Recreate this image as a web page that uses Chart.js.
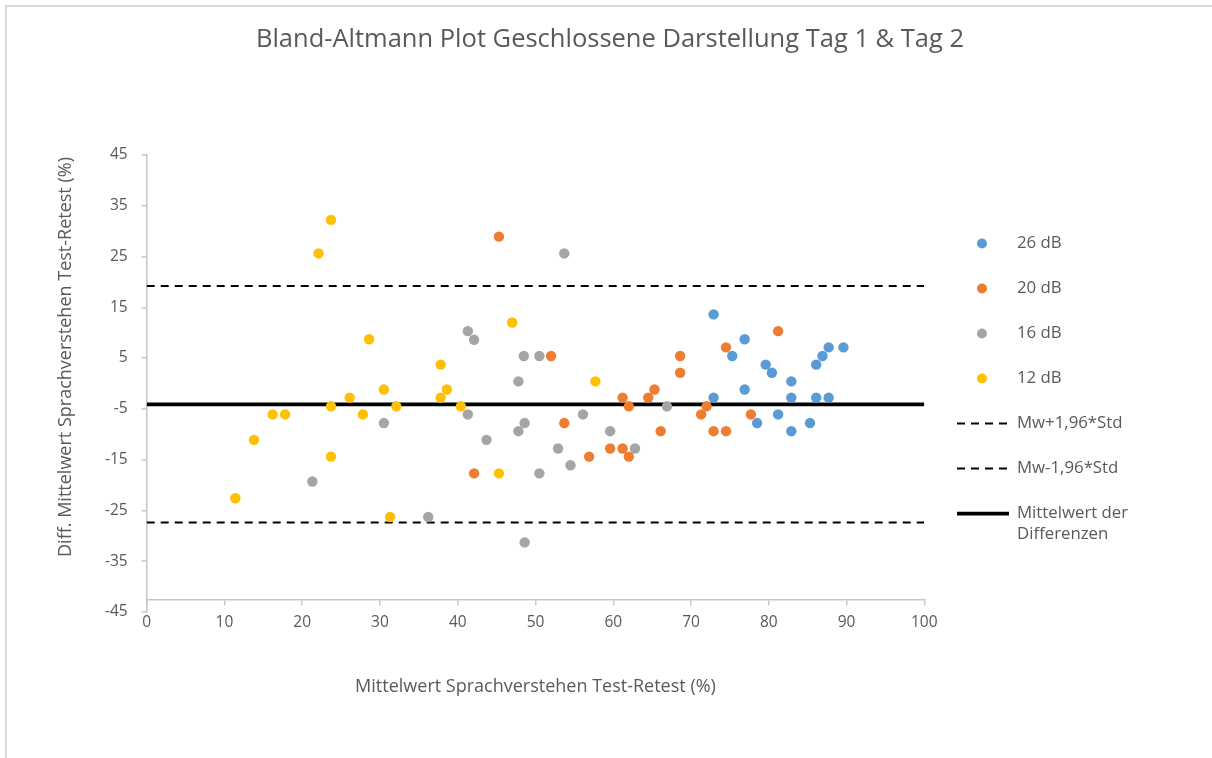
<!DOCTYPE html>
<html>
<head>
<meta charset="utf-8">
<script src="https://cdn.jsdelivr.net/npm/chart.js@4.4.0/dist/chart.umd.min.js"></script>
<style>
  body { margin: 0; background: #fff; overflow: hidden; }
  #wrap { width: 1212px; height: 758px; }
</style>
</head>
<body>
<div id="wrap"><canvas id="myChart" width="1212" height="758"></canvas></div>
<script>
var chartTitle = "Bland-Altmann Plot Geschlossene Darstellung Tag 1 & Tag 2";
var xTitle = "Mittelwert Sprachverstehen Test-Retest (%)";
var yTitle = "Diff. Mittelwert Sprachverstehen Test-Retest (%)";

var seriesNames = ["26 dB", "20 dB", "16 dB", "12 dB"];
var seriesColors = ["#5B9BD5", "#ED7D31", "#A5A5A5", "#FFC000"];

// x = Mittelwert, y = Differenz (Tag 1 - Tag 2)
var x26 = [72.9, 76.9, 75.3, 79.6, 80.4, 82.9, 86.1, 86.9, 87.7, 89.6, 72.9, 76.9, 78.5, 81.2, 82.9, 82.9, 85.3, 86.1, 87.7];
var y26 = [13.6, 8.7, 5.4, 3.7, 2.1, 0.4, 3.7, 5.4, 7.1, 7.1, -2.8, -1.2, -7.8, -6.1, -2.8, -9.4, -7.8, -2.8, -2.8];

var x20 = [45.3, 52.0, 68.6, 68.6, 81.2, 74.5, 42.1, 53.7, 56.9, 59.6, 61.2, 62.0, 61.2, 62.0, 64.5, 65.3, 66.1, 72.0, 71.3, 72.9, 74.5, 77.7];
var y20 = [28.9, 5.4, 5.4, 2.1, 10.3, 7.1, -17.7, -7.8, -14.4, -12.8, -12.8, -14.4, -2.8, -4.5, -2.8, -1.2, -9.4, -4.5, -6.1, -9.4, -9.4, -6.1];

var x16 = [53.7, 41.3, 42.1, 48.5, 50.5, 47.8, 41.3, 43.7, 47.8, 48.6, 48.6, 50.5, 52.9, 54.5, 56.1, 59.6, 62.8, 66.9, 36.2, 30.5, 21.3];
var y16 = [25.6, 10.3, 8.6, 5.4, 5.4, 0.4, -6.1, -11.1, -9.4, -7.8, -31.3, -17.7, -12.8, -16.1, -6.1, -9.4, -12.8, -4.5, -26.3, -7.8, -19.3];

var x12 = [23.7, 22.1, 28.6, 11.4, 13.8, 16.2, 17.8, 23.7, 23.7, 26.1, 27.8, 30.5, 32.1, 31.3, 47.0, 37.8, 37.8, 38.6, 40.4, 45.3, 57.7];
var y12 = [32.2, 25.6, 8.7, -22.6, -11.1, -6.1, -6.1, -4.5, -14.4, -2.8, -6.1, -1.2, -4.5, -26.3, 12.0, 3.7, -2.8, -1.2, -4.5, -17.7, 0.4];

var xSeries = [x26, x20, x16, x12];
var ySeries = [y26, y20, y16, y12];

// Grenzen und Mittelwert der Differenzen
var lineNames = ["Mw+1,96*Std", "Mw-1,96*Std", "Mittelwert der Differenzen"];
var lineValues = [19.2, -27.4, -4.1];
var lineWidths = [2, 2, 3.75];
var lineDashes = [[8, 6], [8, 6], []];

var xRange = [0, 100];
var yRange = [-45, 45];
var xAxisCross = -42.5;

var textColor = "#595959";
var axisColor = "#c6c6c6";
var fontFamily = "'Open Sans', 'Noto Sans', sans-serif";

var datasets = [];
for (var i = 0; i < seriesNames.length; i++) {
  var pts = [];
  for (var j = 0; j < xSeries[i].length; j++) {
    pts.push({ x: xSeries[i][j], y: ySeries[i][j] });
  }
  datasets.push({
    label: seriesNames[i],
    data: pts,
    backgroundColor: seriesColors[i],
    borderColor: seriesColors[i],
    pointRadius: 5.2,
    pointBorderWidth: 0,
    showLine: false
  });
}
for (var k = 0; k < lineNames.length; k++) {
  datasets.push({
    label: lineNames[k],
    data: [{ x: xRange[0], y: lineValues[k] }, { x: xRange[1], y: lineValues[k] }],
    borderColor: "#000000",
    backgroundColor: "#000000",
    borderWidth: lineWidths[k],
    borderDash: lineDashes[k],
    pointRadius: 0,
    showLine: true,
    fill: false
  });
}

var decor = {
  id: 'decor',
  beforeDraw: function(chart) {
    var c = chart.ctx;
    c.save();
    c.fillStyle = "#ffffff";
    c.fillRect(0, 0, chart.width, chart.height);
    c.strokeStyle = "#d9d9d9";
    c.lineWidth = 2;
    c.strokeRect(6, 6, chart.width + 50, chart.height + 50);
    c.restore();
  },
  afterDraw: function(chart) {
    var c = chart.ctx;
    var area = chart.chartArea;
    c.save();
    c.fillStyle = textColor;
    c.textAlign = "center";
    c.textBaseline = "middle";
    c.font = "25.5px " + fontFamily;
    c.fillText(chartTitle, 610, 40);
    c.font = "18px " + fontFamily;
    c.fillText(xTitle, (area.left + area.right) / 2, 687);
    c.save();
    c.translate(66, 357);
    c.rotate(-Math.PI / 2);
    c.fillText(yTitle, 0, 0);
    c.restore();

    // legend
    c.font = "16.8px " + fontFamily;
    c.textAlign = "left";
    var rowY = 243.5;
    var rowGap = 45;
    chart.data.datasets.forEach(function(ds, i) {
      var y = rowY + i * rowGap;
      if (ds.showLine) {
        c.strokeStyle = ds.borderColor;
        c.lineWidth = ds.borderWidth;
        c.setLineDash(ds.borderDash);
        c.beginPath();
        c.moveTo(957, y);
        c.lineTo(1009, y);
        c.stroke();
        c.setLineDash([]);
      } else {
        c.fillStyle = ds.backgroundColor;
        c.beginPath();
        c.arc(982, y, 5, 0, 2 * Math.PI);
        c.fill();
      }
      c.fillStyle = textColor;
      var words = ds.label.split(" ");
      var line = "";
      var lines = [];
      words.forEach(function(w) {
        var test = line ? line + " " + w : w;
        if (line && c.measureText(test).width > 140) {
          lines.push(line);
          line = w;
        } else {
          line = test;
        }
      });
      lines.push(line);
      lines.forEach(function(t, n) {
        c.fillText(t, 1017, y + n * 21);
      });
    });
    c.restore();
  }
};

var ctx = document.getElementById("myChart");
var myChart = new Chart(ctx, {
  type: 'scatter',
  data: { datasets: datasets },
  options: {
    responsive: false,
    animation: false,
    devicePixelRatio: 1,
    layout: {
      padding: { left: 50, top: 154.9, right: 287.7, bottom: 146 }
    },
    plugins: {
      legend: { display: false },
      tooltip: { enabled: false },
      title: { display: false }
    },
    scales: {
      x: {
        type: 'linear',
        position: { y: xAxisCross },
        min: xRange[0],
        max: xRange[1],
        ticks: {
          stepSize: 10,
          color: textColor,
          font: { family: fontFamily, size: 15.5 },
          padding: 9,
          maxRotation: 0
        },
        grid: { drawOnChartArea: false, drawTicks: true, tickLength: 5, color: axisColor, lineWidth: 1.5 },
        border: { display: true, color: axisColor, width: 1.5 }
      },
      y: {
        type: 'linear',
        position: 'left',
        min: yRange[0],
        max: yRange[1],
        ticks: {
          stepSize: 10,
          color: textColor,
          font: { family: fontFamily, size: 15.5 },
          padding: 14
        },
        grid: { drawOnChartArea: false, drawTicks: true, tickLength: 5, color: axisColor, lineWidth: 1.5 },
        border: { display: true, color: axisColor, width: 1.5 },
        afterFit: function(scale) {
          scale.width = 96.7;
        }
      }
    }
  },
  plugins: [decor]
});
</script>
</body>
</html>
